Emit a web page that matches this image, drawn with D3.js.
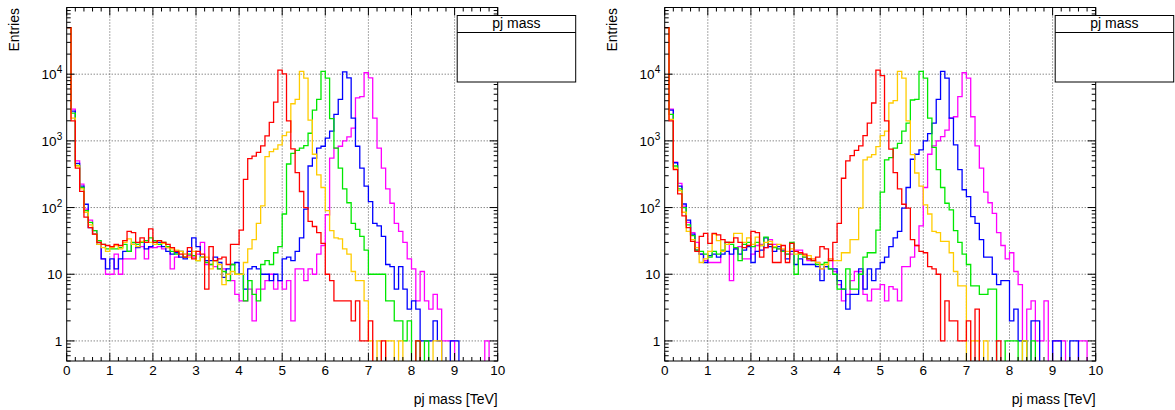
<!DOCTYPE html>
<html>
<head>
<meta charset="utf-8">
<script src="https://cdn.jsdelivr.net/npm/d3@7/dist/d3.min.js"></script>
<style>
  body { margin: 0; background: #fff; }
  svg { display: block; font-family: "Liberation Sans", Arial, Helvetica, sans-serif; }
</style>
</head>
<body>
<div id="chart"></div>
<script>
var width = 1175;
var height = 410;

// tick labels
var xTicks = [0, 1, 2, 3, 4, 5, 6, 7, 8, 9, 10];
var yDecades = [1, 10, 100, 1000, 10000];
var binWidth = 0.1;

// bin contents, 100 bins of 0.1 TeV, left pad
var leftRed = [
  50000, 2000, 390, 175, 72, 50, 40, 30, 28, 27,
  26, 28, 27, 32, 44, 42, 30, 35, 30, 48,
  30, 32, 30, 28, 25, 22, 20, 18, 25, 17,
  22, 20, 6, 26, 16, 17, 18, 14, 28, 28,
  46, 265, 540, 590, 670, 840, 1190, 1900, 3800, 11500,
  10100, 2000, 760, 335, 174, 100, 62, 52, 42, 29,
  10, 8, 4, 4, 4, 4, 2, 4, 1, 1,
  2, 0, 0, 1, 0, 0, 0, 0, 0, 0,
  0, 1, 0, 0, 0, 0, 0, 0, 0, 0,
  0, 0, 0, 0, 0, 0, 0, 0, 0, 0];
var leftOrange = [
  50000, 2200, 420, 190, 85, 55, 40, 28, 25, 22,
  25, 27, 24, 30, 34, 28, 26, 31, 30, 30,
  28, 32, 29, 25, 24, 23, 22, 20, 18, 22,
  16, 18, 18, 12, 16, 14, 7, 10, 11, 10,
  10, 15, 24, 33, 58, 106, 580, 690, 750, 870,
  1200, 1350, 3600, 4200, 11000, 8700, 2050, 630, 310, 200,
  90, 45, 35, 34, 24, 20, 11, 8, 8, 4,
  1, 0, 1, 0, 1, 1, 0, 1, 0, 0,
  0, 0, 0, 0, 0, 1, 1, 0, 0, 0,
  0, 0, 0, 0, 0, 0, 0, 0, 0, 0];
var leftGreen = [
  50000, 2600, 430, 200, 90, 60, 45, 32, 28, 24,
  24, 24, 25, 28, 22, 30, 28, 30, 32, 35,
  32, 28, 30, 26, 22, 20, 22, 18, 20, 19,
  16, 18, 15, 14, 16, 12, 11, 8, 14, 10,
  10, 4, 8, 5, 4, 14, 16, 14, 21, 26,
  80, 450, 650, 720, 780, 850, 1300, 2900, 4200, 11000,
  8700, 2150, 780, 390, 190, 118, 58, 47, 37, 23,
  10, 10, 10, 10, 4, 4, 2, 2, 1, 2,
  0, 1, 0, 1, 0, 0, 0, 0, 0, 0,
  0, 0, 0, 0, 0, 0, 0, 0, 0, 0];
var leftBlue = [
  50000, 2800, 460, 210, 112, 50, 40, 28, 17, 12,
  17, 12, 17, 22, 22, 28, 25, 30, 24, 26,
  32, 30, 26, 22, 20, 21, 18, 17, 22, 35,
  26, 18, 16, 16, 18, 15, 9, 12, 14, 15,
  10, 6, 12, 13, 12, 10, 10, 8, 10, 8,
  17, 18, 16, 22, 35, 95, 420, 550, 780, 830,
  1100, 1400, 2500, 4200, 10800, 8800, 2200, 830, 390, 210,
  123, 58, 53, 37, 14, 13, 6, 13, 6, 3,
  4, 3, 1, 1, 1, 2, 1, 0, 0, 1,
  1, 0, 0, 0, 0, 0, 0, 0, 0, 0];
var leftMagenta = [
  50000, 3000, 500, 225, 95, 65, 45, 30, 17, 10,
  10, 20, 10, 17, 17, 17, 26, 26, 17, 25,
  25, 26, 24, 25, 12, 18, 22, 20, 19, 18,
  20, 30, 14, 14, 13, 12, 12, 10, 8, 5,
  4, 4, 6, 2, 6, 6, 8, 10, 6, 8,
  6, 8, 2, 12, 12, 8, 12, 10, 20, 27,
  78, 550, 780, 830, 1000, 1150, 1550, 4400, 4600, 10500,
  8800, 2200, 780, 390, 190, 116, 58, 44, 30, 17,
  12, 4, 11, 4, 3, 5, 3, 1, 1, 1,
  0, 0, 0, 0, 0, 0, 0, 1, 0, 0];

// right pad
var rightRed = [
  50000, 2000, 370, 160, 75, 50, 31, 22, 37, 41,
  29, 41, 39, 33, 30, 30, 35, 30, 25, 27,
  44, 42, 18, 25, 28, 15, 15, 27, 15, 29,
  22, 21, 20, 17, 16, 18, 26, 24, 16, 30,
  58, 275, 500, 600, 720, 840, 1200, 1850, 3700, 11500,
  9500, 2000, 750, 335, 190, 112, 98, 33, 27, 22,
  21, 13, 12, 10, 1, 4, 2, 2, 1, 1,
  2, 0, 3, 0, 0, 0, 0, 1, 0, 0,
  0, 0, 0, 0, 0, 0, 0, 0, 0, 0,
  0, 0, 0, 0, 0, 0, 0, 0, 0, 0];
var rightOrange = [
  50000, 2100, 390, 180, 85, 44, 33, 25, 15, 17,
  22, 40, 32, 22, 28, 30, 41, 41, 30, 35,
  28, 36, 27, 30, 31, 26, 28, 24, 22, 24,
  20, 21, 19, 19, 17, 15, 12, 14, 17, 16,
  16, 21, 21, 33, 33, 98, 520, 570, 620, 820,
  1200, 1400, 3700, 4000, 11000, 8700, 2000, 620, 330, 210,
  110, 80, 44, 42, 31, 31, 21, 11, 6.7, 6.7,
  0, 1, 1, 0, 1, 0, 0, 0, 0, 0,
  0, 0, 0, 1, 0, 0, 0, 0, 0, 0,
  0, 0, 0, 0, 0, 0, 0, 0, 0, 0];
var rightGreen = [
  50000, 2500, 420, 190, 100, 55, 38, 23, 22, 20,
  18, 22, 20, 23, 30, 28, 25, 16, 28, 30,
  26, 30, 27, 36, 28, 25, 24, 22, 20, 30,
  10, 20, 18, 17, 16, 14, 14, 15, 12, 10,
  6, 6, 12, 6, 6, 10, 18, 21, 21, 46,
  170, 520, 560, 780, 920, 1400, 1850, 4100, 4200, 11000,
  8700, 2200, 800, 370, 200, 116, 92, 45, 30, 20,
  14, 6.7, 6.7, 5, 5, 6, 6, 0, 0, 1,
  1, 1, 0, 1, 0, 1, 0, 0, 0, 0,
  0, 0, 0, 0, 0, 0, 0, 0, 0, 0];
var rightBlue = [
  50000, 2900, 470, 210, 113, 65, 40, 23, 20, 15,
  19, 20, 18, 20, 22, 20, 24, 20, 23, 26,
  15, 22, 23, 35, 26, 22, 26, 23, 17, 22,
  14, 17, 14, 14, 14, 13, 8, 13, 12, 12,
  8, 6, 3, 5, 5, 12, 6, 12, 8, 12,
  15, 18, 26, 35, 44, 98, 200, 530, 630, 735,
  1000, 1280, 1850, 4200, 11000, 8700, 2200, 870, 370, 185,
  146, 73, 58, 33, 18, 18, 10, 7, 8, 8,
  2, 3, 1, 1, 0, 2, 2, 0, 0, 0,
  1, 1, 0, 0, 1, 1, 0, 0, 0, 0];
var rightMagenta = [
  50000, 3000, 480, 230, 105, 60, 42, 30, 20, 16,
  15, 15, 15, 22, 30, 8, 24, 26, 17, 17,
  20, 27, 28, 25, 33, 28, 24, 22, 20, 20,
  23, 23, 18, 16, 17, 15, 12, 13, 17, 11,
  7, 4, 5, 8, 11, 11, 5, 4, 6, 6,
  7, 4, 6.5, 6, 4, 13, 13, 18, 27, 53,
  200, 630, 840, 1000, 1160, 1450, 2200, 2300, 4600, 10500,
  8700, 2300, 840, 390, 170, 118, 82, 42, 27, 17,
  21, 11, 7, 1, 3, 4, 1, 1, 4, 0,
  1, 1, 1, 0, 0, 0, 1, 1, 0, 0];

// draw order: magenta first, red last (on top)
var colors = ["#ff00ff", "#0000ff", "#00e800", "#ffcc00", "#ff0000"];

var panels = [
  {left: 66.7, series: [leftMagenta, leftBlue, leftGreen, leftOrange, leftRed]},
  {left: 664.7, series: [rightMagenta, rightBlue, rightGreen, rightOrange, rightRed]}
];

var frameW = 431, frameTop = 7.5, frameBottom = 361;

var svg = d3.select("#chart")
  .append("svg")
  .attr("width", width)
  .attr("height", height);

panels.forEach(function(p, pi) {
  var xScale = d3.scaleLinear()
    .domain([0, 10])
    .range([p.left, p.left + frameW]);

  var yScale = d3.scaleLog()
    .domain([0.5, 1e5])
    .range([frameBottom, frameTop]);

  var g = svg.append("g");

  g.append("clipPath")
    .attr("id", "clip" + pi)
    .append("rect")
      .attr("x", p.left)
      .attr("y", frameTop)
      .attr("width", frameW)
      .attr("height", frameBottom - frameTop);

  // grid
  g.selectAll(".vgrid")
    .data(xTicks.slice(1, -1))
    .enter()
    .append("line")
      .attr("x1", function(d) { return xScale(d); })
      .attr("x2", function(d) { return xScale(d); })
      .attr("y1", frameTop)
      .attr("y2", frameBottom)
      .attr("stroke", "#555")
      .attr("stroke-width", 1)
      .attr("stroke-dasharray", "1,2");

  g.selectAll(".hgrid")
    .data(yDecades)
    .enter()
    .append("line")
      .attr("x1", p.left)
      .attr("x2", p.left + frameW)
      .attr("y1", function(d) { return yScale(d); })
      .attr("y2", function(d) { return yScale(d); })
      .attr("stroke", "#555")
      .attr("stroke-width", 1)
      .attr("stroke-dasharray", "1,2");

  // histograms
  var line = d3.line()
    .x(function(d) { return xScale(d[0]); })
    .y(function(d) { return d[1] > 0 ? yScale(d[1]) : frameBottom + 20; })
    .curve(d3.curveStepAfter);

  var hg = g.append("g").attr("clip-path", "url(#clip" + pi + ")");
  p.series.forEach(function(vals, si) {
    var pts = vals.map(function(v, i) { return [i * binWidth, v]; });
    pts.push([vals.length * binWidth, vals[vals.length - 1]]);
    hg.append("path")
      .attr("d", line(pts))
      .attr("fill", "none")
      .attr("stroke", colors[si])
      .attr("stroke-width", 1.3);
  });

  // frame
  g.append("rect")
    .attr("x", p.left)
    .attr("y", frameTop)
    .attr("width", frameW)
    .attr("height", frameBottom - frameTop)
    .attr("fill", "none")
    .attr("stroke", "#000")
    .attr("stroke-width", 1);

  // x ticks, bottom and top
  var xMinor = d3.range(0, 51).map(function(i) { return i * 0.2; });
  g.selectAll(".xt")
    .data(xMinor)
    .enter()
    .append("path")
      .attr("d", function(d, i) {
        var len = (i % 5 === 0) ? 8 : 4;
        var x = xScale(d);
        return "M" + x + "," + frameBottom + "v" + (-len) +
               "M" + x + "," + frameTop + "v" + len;
      })
      .attr("stroke", "#000")
      .attr("stroke-width", 1);

  // y ticks, left and right
  var yMinor = [];
  [0.1, 1, 10, 100, 1000, 10000].forEach(function(dec) {
    for (var k = 1; k <= 9; k++) {
      var v = dec * k;
      if (v >= 0.5 && v <= 1e5) yMinor.push({v: v, major: k === 1});
    }
  });
  g.selectAll(".yt")
    .data(yMinor)
    .enter()
    .append("path")
      .attr("d", function(d) {
        var len = d.major ? 8 : 4;
        var y = yScale(d.v);
        return "M" + p.left + "," + y + "h" + len +
               "M" + (p.left + frameW) + "," + y + "h" + (-len);
      })
      .attr("stroke", "#000")
      .attr("stroke-width", 1);

  // x labels
  g.selectAll(".xl")
    .data(xTicks)
    .enter()
    .append("text")
      .attr("x", function(d) { return xScale(d); })
      .attr("y", 375)
      .attr("text-anchor", "middle")
      .attr("font-size", 13.5)
      .text(function(d) { return d; });

  // y labels
  yDecades.forEach(function(d) {
    var exp = Math.round(Math.log10(d));
    var t = g.append("text")
      .attr("x", p.left - 4.5)
      .attr("y", yScale(d) + 5)
      .attr("text-anchor", "end")
      .attr("font-size", 13.5);
    if (exp < 2) {
      t.text(d);
    } else {
      t.append("tspan").text("10");
      t.append("tspan")
        .attr("dy", -6)
        .attr("font-size", 10)
        .text(exp);
    }
  });

  // axis titles
  g.append("text")
    .attr("transform", "translate(" + (p.left - 47.5) + ",8) rotate(-90)")
    .attr("text-anchor", "end")
    .attr("font-size", 14)
    .text("Entries");

  g.append("text")
    .attr("x", p.left + frameW)
    .attr("y", 404)
    .attr("text-anchor", "end")
    .attr("font-size", 14)
    .text("pj mass [TeV]");

  // stats/title box
  var bx = p.left + 390.5, bw = 118.5;
  g.append("rect")
    .attr("x", bx)
    .attr("y", 15.5)
    .attr("width", bw)
    .attr("height", 66.5)
    .attr("fill", "#fff")
    .attr("stroke", "#000")
    .attr("stroke-width", 1);
  g.append("line")
    .attr("x1", bx)
    .attr("x2", bx + bw)
    .attr("y1", 32.5)
    .attr("y2", 32.5)
    .attr("stroke", "#000")
    .attr("stroke-width", 1);
  g.append("text")
    .attr("x", bx + bw / 2)
    .attr("y", 28)
    .attr("text-anchor", "middle")
    .attr("font-size", 14)
    .text("pj mass");
});
</script>
</body>
</html>
